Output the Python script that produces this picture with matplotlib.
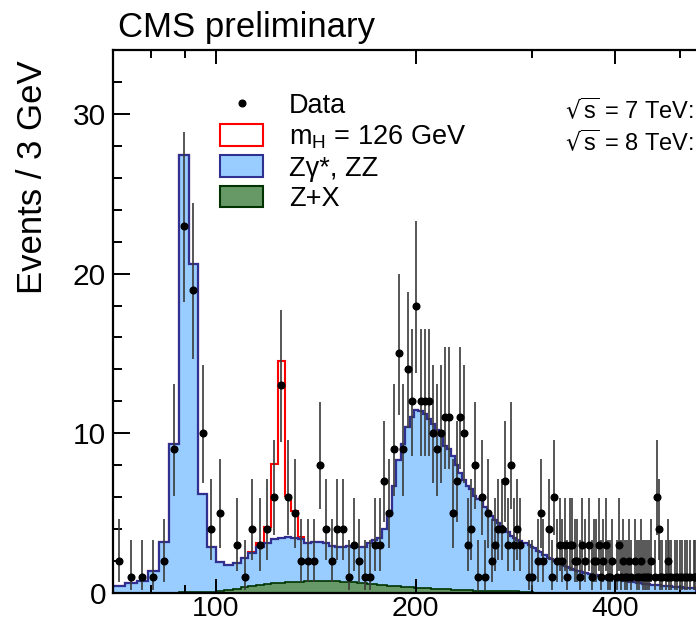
import numpy as np
import matplotlib.pyplot as plt
from matplotlib.patches import Patch
from matplotlib.lines import Line2D
from matplotlib.ticker import FixedLocator, MultipleLocator, NullFormatter
from math import exp, log, lgamma

plt.rcParams['font.family'] = ['Liberation Sans', 'DejaVu Sans']
plt.rcParams['mathtext.default'] = 'regular'

# 3 GeV bins from 70 GeV (plot is cut at ~529 GeV)
edges = np.arange(70, 530, 3)

# observed events per bin
data = [2, 1, 1, 1, 2, 9, 23, 19, 10, 4,
        5, 0, 3, 1, 4, 3, 4, 6, 13, 6,
        5, 2, 2, 2, 8, 4, 2, 4, 4, 1,
        3, 2, 1, 1, 3, 3, 7, 5, 9, 15,
        9, 14, 12, 18, 12, 12, 12, 10, 9, 10,
        11, 11, 5, 7, 11, 10, 3, 4, 8, 1,
        6, 1, 5, 2, 3, 4, 4, 7, 3, 8,
        3, 4, 3, 0, 0, 1, 1, 0, 2, 5,
        2, 0, 4, 1, 6, 2, 3, 2, 3, 1,
        3, 3, 2, 2,
        1, 3, 2, 0, 3, 1, 2, 2, 3, 1,
        2, 3, 1, 1, 2, 0, 1, 3, 1, 2,
        1, 1, 2, 1, 0, 2, 1, 1, 2, 1,
        1, 1, 1, 2, 0, 1, 6, 4, 1, 1,
        0, 1, 2, 1, 1, 0, 1, 1, 0, 1,
        1, 0, 1, 1, 0, 1, 0, 1, 1]

# stacked background (Z gamma*, ZZ on top of Z+X)
bkg_stack = [0.45, 0.6, 0.75, 1.4, 3.2, 9.3, 27.4, 20.6, 6.2, 2.9,
             1.96, 1.75, 1.85, 2.17, 2.48, 2.9, 3.11, 3.36, 3.42, 3.53,
             3.42, 3.4, 3.15, 3.2, 3.2, 3.1, 2.95, 2.9, 2.9, 2.95,
             2.9, 2.86, 2.86, 3.1, 3.3, 3.45, 4.0, 5.0, 6.7, 8.3,
             9.3, 10.4, 11.0, 11.45, 11.4, 11.2, 10.9, 10.6, 10.2, 9.9,
             9.2, 9.0, 8.6, 8.0, 7.5, 7.1, 6.7, 6.5, 6.1, 5.9,
             5.8, 5.4, 5.1, 4.8, 4.6, 4.4, 4.2, 4.0, 3.8, 3.6,
             3.45, 3.3, 3.25, 3.15, 3.1, 3.0, 2.9, 2.8, 2.65, 2.55,
             2.4, 2.35, 2.2, 2.15, 2.0, 1.95, 1.85, 1.75, 1.7, 1.6,
             1.55, 1.5, 1.45, 1.4,
             1.35, 1.3, 1.28, 1.25, 1.2, 1.18, 1.15, 1.1, 1.08, 1.05,
             1.0, 0.98, 0.95, 0.92, 0.9, 0.88, 0.85, 0.82, 0.8, 0.78,
             0.76, 0.74, 0.72, 0.7, 0.68, 0.66, 0.64, 0.62, 0.6, 0.58,
             0.57, 0.56, 0.54, 0.53, 0.52, 0.5, 0.49, 0.48, 0.47, 0.46,
             0.45, 0.44, 0.43, 0.42, 0.41, 0.4, 0.39, 0.38, 0.37, 0.36,
             0.35, 0.34, 0.33, 0.33, 0.32, 0.31, 0.3, 0.3, 0.29]

# Z+X reducible background
zx = [0, 0, 0, 0.01, 0.02, 0.03, 0.04, 0.05, 0.07, 0.09,
      0.12, 0.18, 0.26, 0.35, 0.45, 0.5, 0.55, 0.6, 0.64, 0.68,
      0.7, 0.72, 0.74, 0.75, 0.76, 0.76, 0.75, 0.73, 0.71, 0.69,
      0.66, 0.63, 0.6, 0.57, 0.54, 0.51, 0.48, 0.46, 0.44, 0.42,
      0.4, 0.38, 0.36, 0.34, 0.32, 0.3, 0.29, 0.28, 0.26, 0.25,
      0.23, 0.22, 0.21, 0.2, 0.19, 0.18, 0.17, 0.16, 0.15, 0.15,
      0.14, 0.14, 0.13, 0.13, 0.12, 0.12, 0.12, 0.11, 0.11, 0.1,
      0.1, 0.1, 0.09, 0.09, 0.09, 0.08, 0.05, 0.03] + [0.0] * 75

# mH = 126 GeV signal, bins 14..21
higgs_first = 14
higgs = [0.11, 0.2, 1.04, 4.7, 11.1, 2.54, 1.73, 0.13]

bkg_stack = np.array(bkg_stack)
zx = np.array(zx)
sig = np.zeros_like(bkg_stack)
sig[higgs_first:higgs_first + len(higgs)] = higgs
sig_stack = bkg_stack + sig
data = np.array(data)
centers = 0.5 * (edges[:-1] + edges[1:])


def poisson_cdf(k, mu):
    if mu <= 0:
        return 1.0
    return sum(exp(-mu + i * log(mu) - lgamma(i + 1)) for i in range(k + 1))


def bisect(f, a, b):
    for _ in range(60):
        m = 0.5 * (a + b)
        if f(a) * f(m) <= 0:
            b = m
        else:
            a = m
    return 0.5 * (a + b)


# Garwood (68%) intervals for the data points
err_lo, err_hi = [], []
for n in data:
    lo = bisect(lambda mu: poisson_cdf(n - 1, mu) - 0.841345, 1e-9, n) if n > 0 else 0
    hi = bisect(lambda mu: poisson_cdf(n, mu) - 0.158655, n, n + 30)
    err_lo.append(n - lo)
    err_hi.append(hi - n)
err_lo = np.array(err_lo)
err_hi = np.array(err_hi)

fig = plt.figure(figsize=(6.96, 6.25), dpi=100)
ax = fig.add_axes([113 / 696, 32 / 625, 583 / 696, 543 / 625])

ax.stairs(sig_stack, edges, fill=False, color='#ff0000', lw=1.5)
ax.stairs(bkg_stack, edges, fill=True, color='#99ccff')
ax.stairs(bkg_stack, edges, fill=False, color='#303090', lw=1.6)
ax.stairs(zx, edges, fill=True, color='#669966')
ax.stairs(zx, edges, fill=False, color='#003300', lw=1.2)

m = data > 0
ax.errorbar(centers[m], data[m], yerr=[err_lo[m], err_hi[m]], fmt='o', color='black',
            ecolor='#3a3a3a', elinewidth=1.2, ms=4.8, capsize=0, zorder=5)

ax.set_xscale('log')
ax.set_xlim(70, 529)
ax.set_ylim(0, 34)
ax.set_xticks([100, 200, 400], labels=['100', '200', '400'])
ax.xaxis.set_minor_locator(FixedLocator([80, 90, 300, 500]))
ax.xaxis.set_minor_formatter(NullFormatter())
ax.yaxis.set_major_locator(MultipleLocator(10))
ax.yaxis.set_minor_locator(MultipleLocator(2))

ax.spines['right'].set_visible(False)
for s in ['left', 'bottom', 'top']:
    ax.spines[s].set_linewidth(1.6)
ax.tick_params(which='both', direction='in', top=True, right=False, width=1.4,
               labelsize=21.5, pad=5)
ax.tick_params(axis='x', labelsize=20.5, pad=2)
ax.tick_params(axis='y', which='major', length=12.5)
ax.tick_params(axis='y', which='minor', length=6.3)
ax.tick_params(axis='x', which='major', length=10)
ax.tick_params(axis='x', which='minor', length=6)

ax.set_ylabel('Events / 3 GeV', fontsize=25)
ax.yaxis.set_label_coords(-0.11, 0.766)

fig.text(118 / 696, 1 - 37 / 625, 'CMS preliminary', fontsize=25, va='baseline')

handles = [Line2D([], [], marker='o', color='black', ls='none', ms=4.8),
           Patch(facecolor='white', edgecolor='#ff0000', lw=1.5),
           Patch(facecolor='#99ccff', edgecolor='#303090', lw=1.5),
           Patch(facecolor='#669966', edgecolor='#003300', lw=1.5)]
labels = ['Data', r'm$_H$ = 126 GeV', 'Zγ*, ZZ', 'Z+X']
ax.legend(handles, labels, loc='upper left', bbox_to_anchor=(220 / 696, 1 - 93 / 625),
          bbox_transform=fig.transFigure, frameon=False, fontsize=19.5,
          handlelength=1.6, handleheight=0.85, handletextpad=0.95,
          labelspacing=0.16, borderpad=0, borderaxespad=0)

fig.text(565 / 696, 1 - 111 / 625, r'$\sqrt{s}$ = 7 TeV:', fontsize=17, va='center')
fig.text(565 / 696, 1 - 143 / 625, r'$\sqrt{s}$ = 8 TeV:', fontsize=17, va='center')

fig.savefig('out.png', dpi=100)
